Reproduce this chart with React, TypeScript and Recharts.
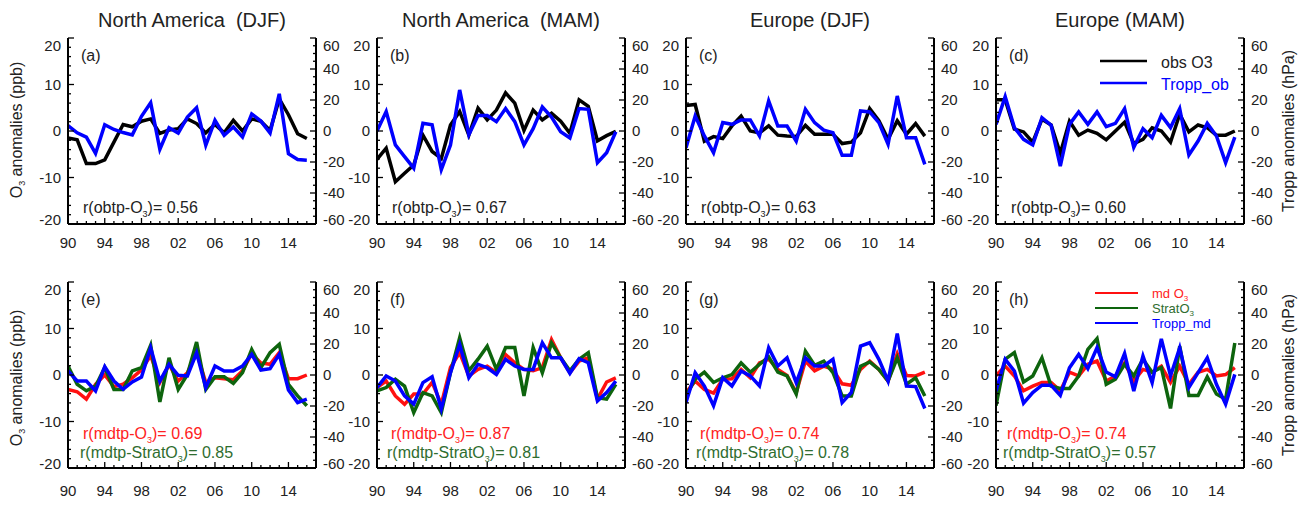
import React from 'react';
import { LineChart, Line, XAxis, YAxis } from 'recharts';

const FONT = '"Liberation Sans", Arial, Helvetica, sans-serif';
const INK = '#222222';
const BLACK = '#000000';
const BLUE = '#0000ff';
const RED = '#ff1010';
const GREEN = '#0d640d';
const RED_TEXT = '#ff2222';
const GREEN_TEXT = '#2f6d2f';

// ---------- data ----------
const YEARS = [1990, 1991, 1992, 1993, 1994, 1995, 1996, 1997, 1998, 1999, 2000, 2001, 2002, 2003, 2004, 2005, 2006, 2007, 2008, 2009, 2010, 2011, 2012, 2013, 2014, 2015, 2016];
const X_TICKS_ALL = [1990, 1991, 1992, 1993, 1994, 1995, 1996, 1997, 1998, 1999, 2000, 2001, 2002, 2003, 2004, 2005, 2006, 2007, 2008, 2009, 2010, 2011, 2012, 2013, 2014, 2015, 2016, 2017];
const X_MAJOR = [1990, 1994, 1998, 2002, 2006, 2010, 2014];
const X_LABELS = ['90', '94', '98', '02', '06', '10', '14'];
const O3_TICKS_ALL = [-20, -18, -16, -14, -12, -10, -8, -6, -4, -2, 0, 2, 4, 6, 8, 10, 12, 14, 16, 18, 20];
const O3_MAJOR = [-20, -10, 0, 10, 20];
const TP_TICKS_ALL = [-60, -55, -50, -45, -40, -35, -30, -25, -20, -15, -10, -5, 0, 5, 10, 15, 20, 25, 30, 35, 40, 45, 50, 55, 60];
const TP_MAJOR = [-60, -40, -20, 0, 20, 40, 60];

// (a) North America DJF
const A_OBS = [-1.5, -1.9, -7, -7, -6.2, -2.4, 1.4, 0.9, 2.1, 2.6, -0.5, 0.2, 0.5, 2.6, 1.6, -0.4, 1.4, -0.4, 2.3, 0, 2.6, 2.1, 0.1, 6.9, 3.5, -0.6, -1.6];
const A_TROP = [3.5, -1.2, -4, -14.5, 4, 1, -1, -2.5, 9.5, 18.2, -11.8, 2.1, -1.3, 9, 15, -9.2, 6.9, -2.8, 2.6, -3.9, 11, 6.4, -1.3, 24, -14.6, -18.4, -18.8];
// (b) North America MAM
const B_OBS = [-6.1, -3.7, -10.9, -9.1, -7.3, -0.9, -4.4, -5.9, 1.3, 4.2, -0.9, 4.9, 2.4, 4.5, 8.2, 6, 0.1, 4.5, 2.4, 3.8, 2.1, -0.5, 6.7, 5.3, -2.1, -1, -0.1];
const B_TROP = [0, 12.5, -9, -16.5, -24, 5, 4, -25, -9, 26.5, -2.5, 10, 10, 6, 14.5, 6, -9, 1.5, 15.5, 9, -0.5, -4.5, 14.5, 14, -20.5, -14, -0.5];
// (c) Europe DJF
const C_OBS = [5.5, 5.7, -2.2, -1.2, -1.6, 1.1, 3.2, 0, -0.4, 1.1, -0.9, -1.1, -1.2, 1.2, -0.7, -0.7, -0.7, -2.7, -2.4, -0.4, 4.8, 2.2, -1.8, 2.2, -0.7, 1.6, -1.1];
const C_TROP = [-10.8, 9.7, -3.2, -14, 5.4, 4.3, 7.1, 7.1, -3.2, 19.4, 3.2, 3.2, -6.5, 14, 5.4, 0.6, -1.1, -15.7, -15.7, 12.9, 12.3, 5.4, -8.6, 22.6, -4.3, -4.3, -21.5];
// (d) Europe MAM
const D_OBS = [6.7, 6.7, 0.4, -0.2, -2.4, 2.5, 1.3, -4.8, 2.1, -0.9, 0.2, -0.5, -1.9, 0, 1.9, -2.7, -1.8, 0.7, 0, -2.4, 3.6, -0.2, 1.3, 0.7, -0.9, -0.9, 0];
const D_TROP = [4.3, 22.2, 2.2, -5.4, -9, 8.6, 3.7, -22.6, 4.3, 12.3, 4.3, 12.3, 2.8, 4.9, 14.4, -10.5, 1.5, -4.3, 10.1, 2.2, 14.4, -15.5, -6.5, 4.9, -3.2, -20.4, -3.9];
// (e) North America DJF model
const E_MD = [-3.1, -3.6, -5.2, -2, 0, -2.5, -2, -0.6, 1.1, 4.2, -1.6, 2.3, -1.3, 0.5, 4.8, -1.6, -0.6, -0.8, -1, 0.9, 4.6, 2.6, 2.3, 4.8, -0.8, -0.8, 0];
const E_STRAT = [1.9, -2, -3.4, -2.4, 1.6, -3.1, -3.1, 0.9, 1.6, 6.4, -5.8, 3.7, -3.1, 0.1, 7.1, -3.1, -0.4, -0.4, -1.8, 0.5, 5.5, 1.6, 4.8, 6.6, -2, -4.5, -6.6];
const E_TROP = [2.6, -3.9, -3.9, -10.3, 5.4, -3.9, -9.2, -4.5, -1.3, 17.6, -3.9, 6.9, -0.2, -0.6, 14.3, -8.1, 5.8, 2.6, 2.6, 5.8, 13.3, 3.2, 4.1, 13.3, -9.6, -17.8, -15.6];
// (f) North America MAM model
const F_MD = [-2.7, -1.3, -4.5, -6.3, -4.1, -4.1, -1.6, -6.3, 1.6, 4.8, -0.2, 1.2, 1.9, 0.5, 4.4, 2.6, 1.2, 0.9, 1.6, 7.6, 3.7, 0.5, 3, 3.7, -5.2, -1.5, -0.6];
const F_STRAT = [-3.4, -2.7, -0.9, -2.4, -8.1, -3.8, -4.5, -8.1, 0.5, 8, 0.9, 3.4, 6.2, 1.2, 5.9, 5.9, -4.5, 5.9, 0.5, 6.9, 3.7, 0.9, 3.4, 4.8, -4.9, -5.2, -2];
const F_TROP = [-8.1, -0.6, -3.9, -13.5, -18.8, -4.9, -1.1, -22, 1.5, 19.7, -1.7, 6.9, 4.7, 0.4, 10.1, 5.8, 3.6, 3.6, 20.8, 11.1, 11.1, 1.1, 10.5, 7.9, -16.7, -11.3, -3.9];
// (g) Europe DJF model
const G_MD = [-3.8, -1.3, -3.1, -3.9, -0.9, -0.8, 1.2, -0.6, 2.6, 3.4, 1.2, -0.1, -3.8, 3, 0.9, 1.9, 1.2, -1.9, -2.2, 1.2, 3, 1.2, -1.3, 4.6, -0.1, -0.2, 0.6];
const G_STRAT = [-4.5, -0.9, 0.6, -1.6, -0.6, 0.1, 2.6, 0.6, 2.3, 3.9, 0.6, -0.2, -4.1, 5.1, 2.1, 3, 0.5, -4.5, -4.5, 1.9, 2.8, 1.2, -1.3, 3.7, -2, -0.6, -4.5];
const G_TROP = [-17.8, 1.5, -7.1, -19.9, -1.7, -7.1, 2.6, -0.6, -7.1, 17.6, 5.8, 11.1, -4.9, 11.1, 5.8, 5.8, 10.1, -17.8, -11.3, 18.6, 20.8, 10.1, -3.9, 26.8, -7.1, -7.5, -21.6];
// (h) Europe MAM model
const H_MD = [-0.1, 1.9, -0.2, -3.4, -2.4, -1.6, -1.6, -3.4, 0.6, -0.2, 2.3, 3, -1.3, -0.2, 2.6, -1.3, 1.2, 0.6, 1.9, -1.6, 1.9, -2, 0.6, 1.2, -0.2, 0.1, 1.6];
const H_STRAT = [-6.6, 3.4, 4.8, -1.5, -0.2, 3.7, -2.4, -2.9, -2.9, -0.2, 5.5, 7.8, -2, -0.9, 2.3, -0.2, 3.4, 0.6, 1.6, -7.2, 6.2, -4.4, -4.4, -0.4, -4.1, -5.2, 6.9];
const H_TROP = [-10.3, 10.1, 2.6, -18.2, -11.3, -6.6, -6.6, -13.1, 4.7, 13.3, 4.1, 17.6, 1.9, -1.1, 13.9, -10.3, 12.2, -4.9, 23.3, -0.6, 17.6, -8.1, 1.5, 11.1, -6, -18.8, 0.4];

const TITLES = ['North America  (DJF)', 'North America  (MAM)', 'Europe (DJF)', 'Europe (MAM)'];
const LETTERS_TOP = ['(a)', '(b)', '(c)', '(d)'];
const LETTERS_BOTTOM = ['(e)', '(f)', '(g)', '(h)'];
const R_OBTP = ['0.56', '0.67', '0.63', '0.60'];
const R_MDTP_O3 = ['0.69', '0.87', '0.74', '0.74'];
const R_MDTP_STRAT = ['0.85', '0.81', '0.78', '0.57'];

// ---------- layout ----------
const FRAME_LEFTS = [68, 377, 686, 996];
const ROW_TOPS = [38, 282];
const FRAME_W = 248;
const FRAME_H = 186;
const AX_L = 44;
const AX_R = 44;
const AX_B = 34;
const PAD_T = 8;
const TICK_FS = 15;
const LINE_W = 3.5;

type Series = { key: string; values: number[]; axis: 'l' | 'r'; color: string };

const BottomTick = (p: any) => {
  const v = p.payload.value;
  const idx = X_MAJOR.indexOf(v);
  const len = idx >= 0 ? 6 : 3;
  return (
    <g>
      <line x1={p.x} x2={p.x} y1={p.y} y2={p.y - len} stroke={BLACK} strokeWidth={1.3} />
      {idx >= 0 && (
        <text x={p.x} y={p.y + p.gap + TICK_FS * 0.36} textAnchor="middle" fill={INK} fontSize={TICK_FS} fontFamily={FONT}>
          {X_LABELS[idx]}
        </text>
      )}
    </g>
  );
};

const TopTick = (p: any) => {
  const v = p.payload.value;
  const len = X_MAJOR.indexOf(v) >= 0 ? 6 : 3;
  return <line x1={p.x} x2={p.x} y1={p.y} y2={p.y + len} stroke={BLACK} strokeWidth={1.3} />;
};

const LeftTick = (p: any) => {
  const v = p.payload.value;
  const major = O3_MAJOR.indexOf(v) >= 0;
  const len = major ? 6 : 3;
  const shift = v === 20 ? 8 : v === -20 ? -4 : 0;
  return (
    <g>
      <line x1={p.x} x2={p.x + len} y1={p.y} y2={p.y} stroke={BLACK} strokeWidth={1.3} />
      {major && (
        <text x={p.x - 7} y={p.y + shift + TICK_FS * 0.36} textAnchor="end" fill={INK} fontSize={TICK_FS} fontFamily={FONT}>
          {String(v)}
        </text>
      )}
    </g>
  );
};

const RightTick = (p: any) => {
  const v = p.payload.value;
  const major = TP_MAJOR.indexOf(v) >= 0;
  const len = major ? 6 : 3;
  const shift = v === 60 ? 8 : v === -60 ? -4 : 0;
  return (
    <g>
      <line x1={p.x} x2={p.x - len} y1={p.y} y2={p.y} stroke={BLACK} strokeWidth={1.3} />
      {major && (
        <text x={p.x + 7} y={p.y + shift + TICK_FS * 0.36} textAnchor="start" fill={INK} fontSize={TICK_FS} fontFamily={FONT}>
          {String(v)}
        </text>
      )}
    </g>
  );
};

const Panel = ({ col, row, series, gap }: { col: number; row: number; series: Series[]; gap: number }) => {
  const data = YEARS.map((year, i) => {
    const r: any = { year };
    series.forEach((s) => {
      r[s.key] = s.values[i];
    });
    return r;
  });
  const axisLine = { stroke: BLACK, strokeWidth: 2 };
  return (
    <div style={{ position: 'absolute', left: FRAME_LEFTS[col] - AX_L, top: ROW_TOPS[row] - PAD_T }}>
      <LineChart
        width={FRAME_W + AX_L + AX_R}
        height={PAD_T + FRAME_H + AX_B}
        data={data}
        margin={{ top: PAD_T, right: 0, bottom: 0, left: 0 }}
      >
        <XAxis
          xAxisId="b"
          dataKey="year"
          type="number"
          domain={[1990, 2017]}
          ticks={X_TICKS_ALL}
          interval={0}
          allowDataOverflow
          height={AX_B}
          axisLine={axisLine}
          tickLine={false}
          tickSize={0}
          tickMargin={0}
          tick={(p: any) => <BottomTick {...p} gap={gap} />}
        />
        <XAxis
          xAxisId="t"
          orientation="top"
          dataKey="year"
          type="number"
          domain={[1990, 2017]}
          ticks={X_TICKS_ALL}
          interval={0}
          allowDataOverflow
          height={0}
          axisLine={axisLine}
          tickLine={false}
          tickSize={0}
          tickMargin={0}
          tick={(p: any) => <TopTick {...p} />}
        />
        <YAxis
          yAxisId="l"
          orientation="left"
          type="number"
          domain={[-20, 20]}
          ticks={O3_TICKS_ALL}
          interval={0}
          allowDataOverflow
          width={AX_L}
          axisLine={axisLine}
          tickLine={false}
          tickSize={0}
          tickMargin={0}
          tick={(p: any) => <LeftTick {...p} />}
        />
        <YAxis
          yAxisId="r"
          orientation="right"
          type="number"
          domain={[-60, 60]}
          ticks={TP_TICKS_ALL}
          interval={0}
          allowDataOverflow
          width={AX_R}
          axisLine={axisLine}
          tickLine={false}
          tickSize={0}
          tickMargin={0}
          tick={(p: any) => <RightTick {...p} />}
        />
        {series.map((s) => (
          <Line
            key={s.key}
            type="linear"
            dataKey={s.key}
            xAxisId="b"
            yAxisId={s.axis}
            stroke={s.color}
            strokeWidth={LINE_W}
            dot={false}
            activeDot={false}
            isAnimationActive={false}
          />
        ))}
      </LineChart>
    </div>
  );
};

const TOP_SERIES: Series[][] = [
  [
    { key: 'obs', values: A_OBS, axis: 'l', color: BLACK },
    { key: 'trop', values: A_TROP, axis: 'r', color: BLUE },
  ],
  [
    { key: 'obs', values: B_OBS, axis: 'l', color: BLACK },
    { key: 'trop', values: B_TROP, axis: 'r', color: BLUE },
  ],
  [
    { key: 'obs', values: C_OBS, axis: 'l', color: BLACK },
    { key: 'trop', values: C_TROP, axis: 'r', color: BLUE },
  ],
  [
    { key: 'obs', values: D_OBS, axis: 'l', color: BLACK },
    { key: 'trop', values: D_TROP, axis: 'r', color: BLUE },
  ],
];

const BOTTOM_SERIES: Series[][] = [
  [
    { key: 'md', values: E_MD, axis: 'l', color: RED },
    { key: 'strat', values: E_STRAT, axis: 'l', color: GREEN },
    { key: 'trop', values: E_TROP, axis: 'r', color: BLUE },
  ],
  [
    { key: 'md', values: F_MD, axis: 'l', color: RED },
    { key: 'strat', values: F_STRAT, axis: 'l', color: GREEN },
    { key: 'trop', values: F_TROP, axis: 'r', color: BLUE },
  ],
  [
    { key: 'md', values: G_MD, axis: 'l', color: RED },
    { key: 'strat', values: G_STRAT, axis: 'l', color: GREEN },
    { key: 'trop', values: G_TROP, axis: 'r', color: BLUE },
  ],
  [
    { key: 'md', values: H_MD, axis: 'l', color: RED },
    { key: 'strat', values: H_STRAT, axis: 'l', color: GREEN },
    { key: 'trop', values: H_TROP, axis: 'r', color: BLUE },
  ],
];

const RED_X = [83, 391, 700, 1007];
const GREEN_X = [80, 387, 696, 1003];

const Overlay = () => {
  const ann = 16;
  return (
    <svg width={1308} height={506} style={{ position: 'absolute', left: 0, top: 0, pointerEvents: 'none' }} fontFamily={FONT}>
      {TITLES.map((t, i) => (
        <text
          key={t}
          x={FRAME_LEFTS[i] + FRAME_W / 2}
          y={20 + 7}
          textAnchor="middle"
          fontSize={20}
          fill={INK}
          style={{ whiteSpace: 'pre' }}
        >
          {t}
        </text>
      ))}
      {LETTERS_TOP.map((t, i) => (
        <text key={t} x={FRAME_LEFTS[i] + 13} y={ROW_TOPS[0] + 17 + 6} fontSize={16} fill={INK}>
          {t}
        </text>
      ))}
      {LETTERS_BOTTOM.map((t, i) => (
        <text key={t} x={FRAME_LEFTS[i] + 13} y={ROW_TOPS[1] + 17 + 6} fontSize={16} fill={INK}>
          {t}
        </text>
      ))}
      {R_OBTP.map((r, i) => (
        <text key={'ob' + i} x={FRAME_LEFTS[i] + 15} y={207 + 6} fontSize={ann} fill={INK}>
          r(obtp-O<tspan fontSize={9} dy={4}>3</tspan>
          <tspan dy={-4}>)= {r}</tspan>
        </text>
      ))}
      {R_MDTP_O3.map((r, i) => (
        <text key={'md' + i} x={RED_X[i]} y={433 + 6} fontSize={ann} fill={RED_TEXT}>
          r(mdtp-O<tspan fontSize={9} dy={4}>3</tspan>
          <tspan dy={-4}>)= {r}</tspan>
        </text>
      ))}
      {R_MDTP_STRAT.map((r, i) => (
        <text key={'st' + i} x={GREEN_X[i]} y={452 + 6} fontSize={ann} fill={GREEN_TEXT}>
          r(mdtp-StratO<tspan fontSize={9} dy={4}>3</tspan>
          <tspan dy={-4}>)= {r}</tspan>
        </text>
      ))}
      {[130, 378].map((cy) => (
        <text key={'yl' + cy} x={16} y={cy} dy={5.5} transform={`rotate(-90 16 ${cy})`} textAnchor="middle" fontSize={16} fill={INK}>
          O<tspan fontSize={9} dy={3}>3</tspan>
          <tspan dy={-3}> anomalies (ppb)</tspan>
        </text>
      ))}
      {[131, 375].map((cy) => (
        <text key={'yr' + cy} x={1288} y={cy} dy={5.5} transform={`rotate(-90 1288 ${cy})`} textAnchor="middle" fontSize={16} fill={INK}>
          Tropp anomalies (hPa)
        </text>
      ))}
      {/* legend (d) */}
      <line x1={1100} x2={1147} y1={61} y2={61} stroke={BLACK} strokeWidth={2.5} />
      <text x={1161} y={62 + 6} fontSize={16} fill={INK}>obs O3</text>
      <line x1={1100} x2={1147} y1={83} y2={83} stroke={BLUE} strokeWidth={2.5} />
      <text x={1161} y={84 + 6} fontSize={16} fill={BLUE}>Tropp_ob</text>
      {/* legend (h) */}
      <line x1={1095} x2={1138} y1={293} y2={293} stroke={RED} strokeWidth={2} />
      <text x={1152} y={293 + 5} fontSize={13} fill={RED_TEXT}>
        md O<tspan fontSize={8} dy={3}>3</tspan>
      </text>
      <line x1={1095} x2={1138} y1={308} y2={308} stroke={GREEN} strokeWidth={2} />
      <text x={1152} y={308 + 5} fontSize={13} fill={GREEN_TEXT}>
        StratO<tspan fontSize={8} dy={3}>3</tspan>
      </text>
      <line x1={1095} x2={1138} y1={323} y2={323} stroke={BLUE} strokeWidth={2} />
      <text x={1152} y={323 + 5} fontSize={13} fill={BLUE}>Tropp_md</text>
    </svg>
  );
};

export default function App() {
  return (
    <div style={{ position: 'absolute', left: 0, top: 0, width: 1308, height: 506, background: '#ffffff', fontFamily: FONT }}>
      {TOP_SERIES.map((s, i) => (
        <Panel key={'t' + i} col={i} row={0} series={s} gap={19} />
      ))}
      {BOTTOM_SERIES.map((s, i) => (
        <Panel key={'b' + i} col={i} row={1} series={s} gap={23} />
      ))}
      <Overlay />
    </div>
  );
}
